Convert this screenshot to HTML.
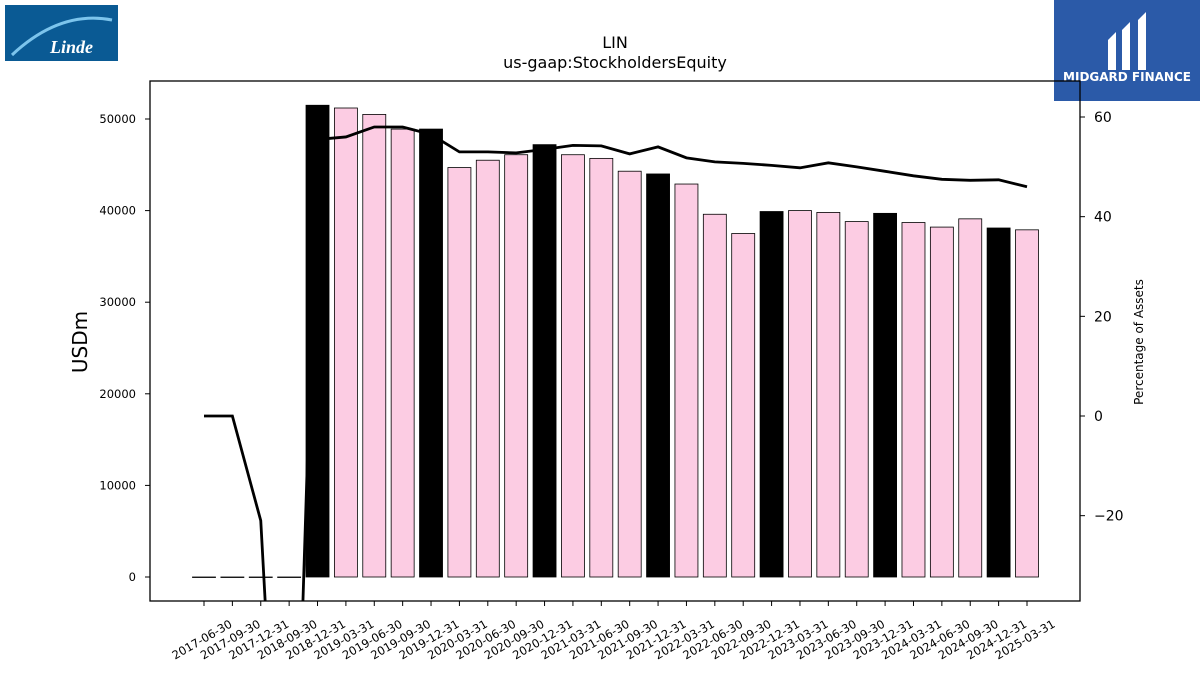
<!DOCTYPE html>
<html><head><meta charset="utf-8"><style>
html,body{margin:0;background:#fff;overflow:hidden;width:1200px;height:675px;font-family:"Liberation Sans","DejaVu Sans",sans-serif}
svg{display:block}
</style></head><body>
<svg width="1200" height="675" xmlns="http://www.w3.org/2000/svg" id="chart" font-family="DejaVu Sans, Liberation Sans, sans-serif">
<rect x="0" y="0" width="1200" height="675" fill="#fff"/>
<g>
<rect x="5" y="5" width="113" height="56" fill="#0a5a94"/>
<path d="M12 55 Q60 10 112 20" stroke="#7cc4ec" stroke-width="3" fill="none"/>
<text x="50" y="53" fill="#fff" font-size="18" font-style="italic" font-weight="bold" font-family="Liberation Serif, serif">Linde</text>
</g>
<g>
<rect x="1054" y="0" width="146" height="101" fill="#2b5aa8"/>
<path d="M1108 70 L1108 40 L1116 32 L1116 70 Z M1122 70 L1122 30 L1130 22 L1130 70 Z M1138 70 L1138 20 L1146 12 L1146 70 Z" fill="#fff"/>
<text x="1127" y="81" fill="#fff" font-size="12" font-weight="bold" text-anchor="middle">MIDGARD FINANCE</text>
</g>
<text x="615" y="48" font-size="16" text-anchor="middle">LIN</text>
<text x="615" y="68" font-size="16" text-anchor="middle">us-gaap:StockholdersEquity</text>
<g id="bars"></g><g id="line"></g><g id="axes"></g>
<rect x="150" y="81" width="930" height="520" fill="none" stroke="#000" stroke-width="1.3"/>
<text transform="translate(87,342) rotate(-90)" font-size="20" text-anchor="middle">USDm</text>
<text transform="translate(1143,342) rotate(-90)" font-size="12" text-anchor="middle">Percentage of Assets</text>
</svg>
<script>
const categories=["2017-06-30","2017-09-30","2017-12-31","2018-09-30","2018-12-31","2019-03-31","2019-06-30","2019-09-30","2019-12-31","2020-03-31","2020-06-30","2020-09-30","2020-12-31","2021-03-31","2021-06-30","2021-09-30","2021-12-31","2022-03-31","2022-06-30","2022-09-30","2022-12-31","2023-03-31","2023-06-30","2023-09-30","2023-12-31","2024-03-31","2024-06-30","2024-09-30","2024-12-31","2025-03-31"];
const equity=[0,0,0,0,51500,51200,50500,48900,48900,44700,45500,46100,47200,46100,45700,44300,44000,42900,39600,37500,39900,40000,39800,38800,39700,38700,38200,39100,38100,37900];
const pctAssets=[0,0,-21,-125,55.5,56,58,58,56.5,53,53,52.8,53.5,54.3,54.2,52.6,54,51.8,51,50.7,50.3,49.8,50.8,50,49.1,48.2,47.5,47.3,47.4,46];
const leftTicks=[0,10000,20000,30000,40000,50000];
const rightTicks=[-20,0,20,40,60];
const NS="http://www.w3.org/2000/svg";
const xPos=i=>204+i*(1027-204)/29;
const yL=v=>577-v*(577-119)/50000;
const yR=v=>416-v*(416-117)/60;
function mk(t,a,p){const e=document.createElementNS(NS,t);for(const k in a)e.setAttribute(k,a[k]);p.appendChild(e);return e;}
const bars=document.getElementById('bars'),axes=document.getElementById('axes'),ln=document.getElementById('line');
categories.forEach((c,i)=>{
 const blk=c.endsWith('12-31');
 const y=yL(equity[i]),h=Math.max(yL(0)-y,0.5);
 const r=mk('rect',{x:xPos(i)-11.5,y:y,width:23,height:h,fill:blk?'#000':'#fccce3',stroke:'#000','stroke-width':0.8},bars);
 
 
 mk('line',{x1:xPos(i),x2:xPos(i),y1:601,y2:606,stroke:'#000'},axes);
 const t=mk('text',{transform:`translate(${xPos(i)},${643}) rotate(-30)`,'font-size':11.5,'text-anchor':'middle'},axes);
 t.textContent=c;
 
 
});
leftTicks.forEach(v=>{
 mk('line',{x1:145,x2:150,y1:yL(v),y2:yL(v),stroke:'#000'},axes);
 const t=mk('text',{x:136,y:yL(v)+4,'font-size':11.5,'text-anchor':'end'},axes);t.textContent=v;
 
 
});
rightTicks.forEach(v=>{
 mk('line',{x1:1080,x2:1085,y1:yR(v),y2:yR(v),stroke:'#000'},axes);
 const t=mk('text',{x:1094,y:yR(v)+5,'font-size':14},axes);t.textContent=v<0?'\u2212'+(-v):v;
 
 
});
mk('clipPath',{id:'cp'},ln);
mk('rect',{x:150,y:81,width:930,height:520},document.getElementById('cp'));
const p=mk('polyline',{points:pctAssets.map((v,i)=>xPos(i)+','+yR(v)).join(' '),fill:'none',stroke:'#000','stroke-width':2.8,'clip-path':'url(#cp)'},ln);


</script>
</body></html>
